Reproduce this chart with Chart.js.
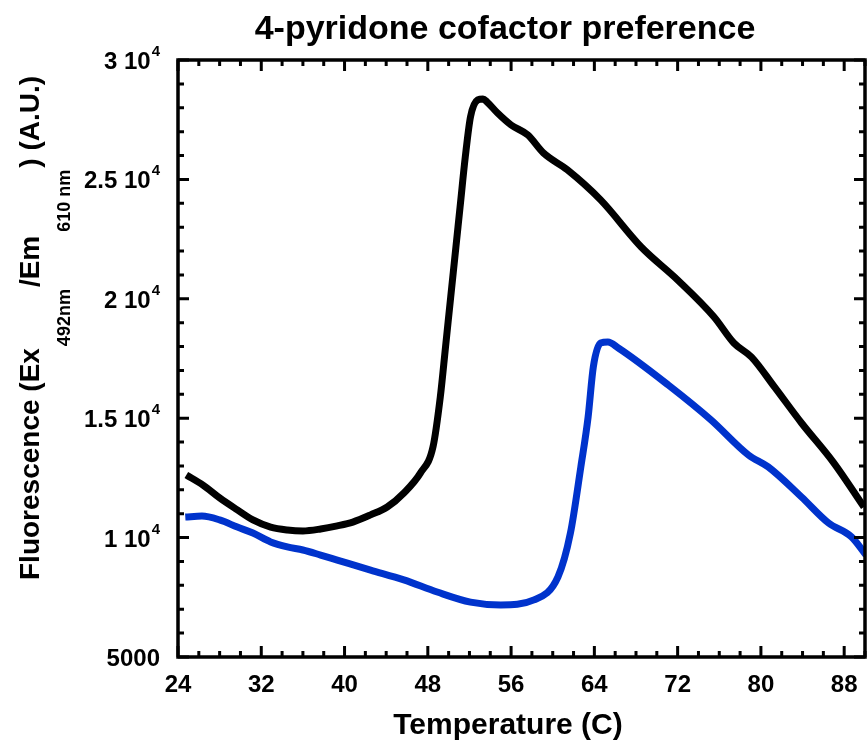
<!DOCTYPE html>
<html>
<head>
<meta charset="utf-8">
<script src="https://cdn.jsdelivr.net/npm/chart.js@4/dist/chart.umd.min.js"></script>
<style>
    html, body { margin: 0; padding: 0; background: #fff; }
    canvas { display: block; }
</style>
</head>
<body>
<canvas id="chart" width="867" height="744"></canvas>
<script>
// melt curves, temperature (C) vs fluorescence
const tempBlack = [24.8, 26.4, 28.0, 29.7, 31.2, 32.9, 34.5, 36.0, 37.7, 39.3, 40.8, 42.5, 44.1, 45.7,
    47.3, 48.5, 49.2, 49.7, 50.2, 50.7, 51.1, 51.6, 52.1, 52.8, 53.3, 53.7, 54.7, 56.0, 57.6, 59.1,
    61.4, 64.6, 68.5, 72.0, 75.5, 77.4, 79.1, 81.3, 83.9, 87.0, 89.9];
const fluorBlack = [12620, 12200, 11660, 11160, 10740, 10440, 10320, 10280, 10360, 10490, 10650, 10950, 11280, 11870,
    12710, 13800, 15890, 17980, 20080, 22170, 23850, 25940, 27620, 28330, 28370, 28240, 27780, 27280, 26860, 26110,
    25400, 24140, 22170, 20790, 19240, 18150, 17560, 16310, 14800, 13130, 11280];

const tempBlue = [24.7, 26.3, 28.0, 29.7, 31.2, 32.9, 34.5, 36.0, 37.7, 39.3, 42.5, 45.7, 48.9, 52.1, 55.0, 58.2,
    60.5, 61.7, 62.7, 63.4, 63.9, 64.6, 65.3, 66.3, 71.1, 75.2, 78.8, 80.7, 83.9, 86.5, 88.7, 90.1];
const fluorBlue = [10860, 10900, 10740, 10440, 10190, 9820, 9610, 9480, 9270, 9060, 8640, 8230, 7720, 7300, 7180, 7390,
    8350, 10190, 12960, 15050, 17150, 18150, 18190, 17940, 16390, 14930, 13460, 12960, 11700, 10610, 10030, 9270];

const xTicks = [24, 32, 40, 48, 56, 64, 72, 80, 88];
const yTicks = [5000, 10000, 15000, 20000, 25000, 30000];
// mantissa and exponent of each y label
const yTickBase = ["5000", "1 10", "1.5 10", "2 10", "2.5 10", "3 10"];
const yTickExp = ["", "4", "4", "4", "4", "4"];

const FONT = '"Liberation Sans", Arial, Helvetica, sans-serif';

function pts(xs, ys) {
    return xs.map((x, i) => ({ x: x, y: ys[i] }));
}

const framePlugin = {
    id: "frame",
    afterDraw(chart) {
        const ctx = chart.ctx;
        const a = chart.chartArea;
        const sx = chart.scales.x, sy = chart.scales.y;

        ctx.save();
        ctx.strokeStyle = "#000";
        ctx.lineCap = "butt";

        // minor + major ticks, pointing inward on all four sides
        ctx.lineWidth = 3;
        for (let v = 24; v <= 90; v += 2) {
            const px = sx.getPixelForValue(v);
            const len = (v - 24) % 8 === 0 ? 11 : 6;
            ctx.beginPath();
            ctx.moveTo(px, a.bottom); ctx.lineTo(px, a.bottom - len);
            ctx.moveTo(px, a.top); ctx.lineTo(px, a.top + len);
            ctx.stroke();
        }
        for (let v = 5000; v <= 30000; v += 1000) {
            const py = sy.getPixelForValue(v);
            const len = v % 5000 === 0 ? 11 : 6;
            ctx.beginPath();
            ctx.moveTo(a.left, py); ctx.lineTo(a.left + len, py);
            ctx.moveTo(a.right, py); ctx.lineTo(a.right - len, py);
            ctx.stroke();
        }

        ctx.lineWidth = 3.5;
        ctx.strokeRect(a.left, a.top, a.right - a.left, a.bottom - a.top);

        ctx.fillStyle = "#000";

        // x tick labels
        ctx.font = "bold 24px " + FONT;
        ctx.textAlign = "center";
        ctx.textBaseline = "middle";
        xTicks.forEach(v => {
            ctx.fillText(String(v), sx.getPixelForValue(v), a.bottom + 28);
        });

        // y tick labels with superscript exponent
        yTicks.forEach((v, i) => {
            const py = sy.getPixelForValue(v);
            const right = a.left - 18;
            ctx.font = "bold 15px " + FONT;
            const ew = yTickExp[i] ? ctx.measureText(yTickExp[i]).width + 1 : 0;
            if (yTickExp[i]) {
                ctx.textAlign = "right";
                ctx.textBaseline = "alphabetic";
                ctx.fillText(yTickExp[i], right, py - 4);
            }
            ctx.font = "bold 24px " + FONT;
            ctx.textAlign = "right";
            ctx.textBaseline = "alphabetic";
            ctx.fillText(yTickBase[i], right - ew, py + 9);
        });

        // title and x axis title
        ctx.textAlign = "center";
        ctx.textBaseline = "alphabetic";
        ctx.font = "bold 34px " + FONT;
        ctx.fillText("4-pyridone cofactor preference", 505, 39);
        ctx.font = "bold 30px " + FONT;
        ctx.fillText("Temperature (C)", 508, 734);

        // y axis title with subscripts, rotated; [text, size, baseline shift, gap before]
        const parts = [
            ["Fluorescence (Ex", 28, 0, 0],
            ["492nm", 18, 31, 2],
            ["/Em", 28, 0, 2],
            ["610 nm", 18, 31, 4],
            [") (A.U.)", 28, 0, 2]
        ];
        ctx.translate(39, 580);
        ctx.rotate(-Math.PI / 2);
        ctx.textAlign = "left";
        let cx = 0;
        parts.forEach(p => {
            ctx.font = "bold " + p[1] + "px " + FONT;
            cx += p[3];
            ctx.fillText(p[0], cx, p[2]);
            cx += ctx.measureText(p[0]).width;
        });

        ctx.restore();
    }
};

new Chart(document.getElementById("chart"), {
    type: "line",
    data: {
        datasets: [
            {
                label: "black",
                data: pts(tempBlack, fluorBlack),
                borderColor: "#000000",
                borderWidth: 7,
                pointRadius: 0,
                cubicInterpolationMode: "monotone",
                fill: false
            },
            {
                label: "blue",
                data: pts(tempBlue, fluorBlue),
                borderColor: "#0033cc",
                borderWidth: 7,
                pointRadius: 0,
                cubicInterpolationMode: "monotone",
                fill: false
            }
        ]
    },
    options: {
        responsive: false,
        animation: false,
        devicePixelRatio: 1,
        layout: { padding: { left: 178, right: 2, top: 60, bottom: 87 } },
        plugins: {
            legend: { display: false },
            title: { display: false },
            tooltip: { enabled: false }
        },
        scales: {
            x: { type: "linear", min: 24, max: 90, display: false },
            y: { type: "linear", min: 5000, max: 30000, display: false }
        }
    },
    plugins: [framePlugin]
});
</script>
</body>
</html>
